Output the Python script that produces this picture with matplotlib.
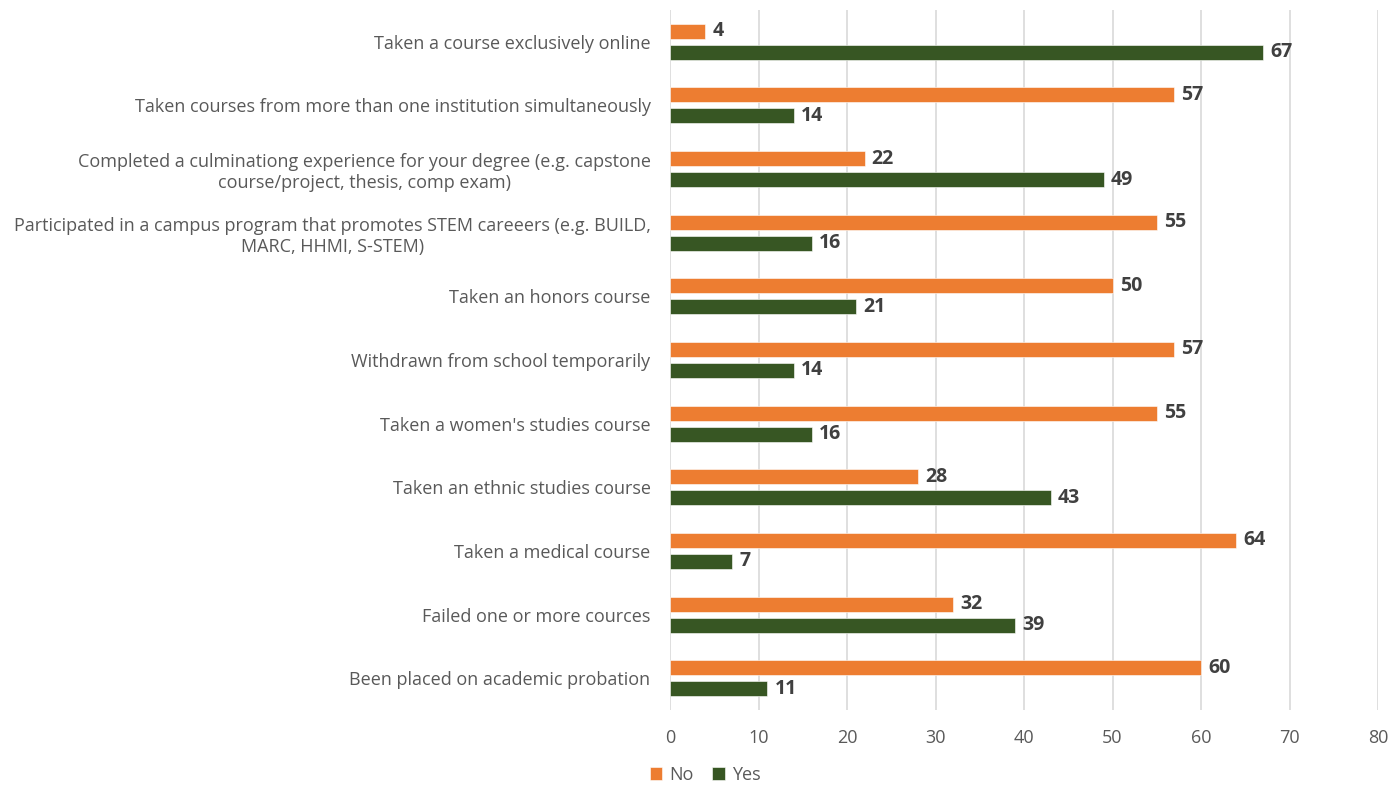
import matplotlib
matplotlib.use("Agg")
import matplotlib.pyplot as plt
import numpy as np

plt.rcParams['font.family'] = ['Open Sans', 'DejaVu Sans']

categories = [
    "Taken a course exclusively online",
    "Taken courses from more than one institution simultaneously",
    "Completed a culminationg experience for your degree (e.g. capstone\ncourse/project, thesis, comp exam)",
    "Participated in a campus program that promotes STEM careeers (e.g. BUILD,\nMARC, HHMI, S-STEM)",
    "Taken an honors course",
    "Withdrawn from school temporarily",
    "Taken a women's studies course",
    "Taken an ethnic studies course",
    "Taken a medical course",
    "Failed one or more cources",
    "Been placed on academic probation",
]
no_vals = [4, 57, 22, 55, 50, 57, 55, 28, 64, 32, 60]
yes_vals = [67, 14, 49, 16, 21, 14, 16, 43, 7, 39, 11]
xticks = [0, 10, 20, 30, 40, 50, 60, 70, 80]

orange = "#ED7D31"
green = "#375623"
txt = "#595959"

fig = plt.figure(figsize=(14, 7.88), dpi=100)
ax = fig.add_axes([670/1400, 1-710/788, (1378-670)/1400, 700/788])

n = len(categories)
y = np.arange(n)
h = 0.236
off = 0.165
b1 = ax.barh(y - off, no_vals, height=h, color=orange, label="No", zorder=3, edgecolor="white", linewidth=0.4)
b2 = ax.barh(y + off, yes_vals, height=h, color=green, label="Yes", zorder=3, edgecolor="white", linewidth=0.4)

for bars, vals in ((b1, no_vals), (b2, yes_vals)):
    for rect, v in zip(bars, vals):
        ax.text(rect.get_width() + 0.8, rect.get_y() + rect.get_height()/2, str(v),
                va="center", ha="left", fontsize=14, fontweight="bold", color="#404040")

ax.set_ylim(n - 0.5, -0.5)
ax.set_xlim(0, 80)
ax.set_xticks(xticks)
ax.set_xticklabels([str(t) for t in xticks], fontsize=13, color=txt)
ax.set_yticks(y)
ax.set_yticklabels(categories, fontsize=13, color=txt, multialignment="center")
ax.tick_params(axis="both", length=0)
ax.tick_params(axis="x", pad=14)
ax.tick_params(axis="y", pad=14)
ax.grid(axis="x", color="#D9D9D9", linewidth=1.2, zorder=0)
for s in ax.spines.values():
    s.set_visible(False)

leg = fig.legend(handles=[b1, b2], labels=["No", "Yes"], loc="center", bbox_to_anchor=(705/1400, 1-775/788),
                 ncol=2, frameon=False, fontsize=13, handlelength=0.7, handleheight=0.7,
                 handletextpad=0.4, columnspacing=1.0)
for t in leg.get_texts():
    t.set_color(txt)

fig.savefig("out.png", dpi=100)
